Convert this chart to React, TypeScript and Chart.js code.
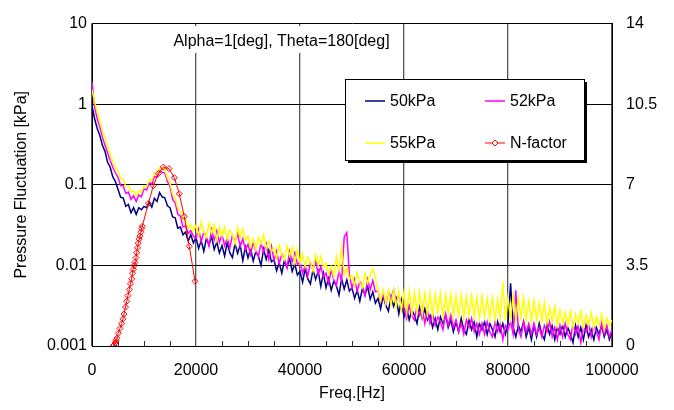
import React, { useEffect, useRef } from "react";
import { Chart, registerables } from "chart.js";

Chart.register(...registerables);

// ---- data ----
const FREQ_STEP_HZ = 500; // spectra sampled every 500 Hz from 0 to 100000 Hz

const P50_KPA = [
  0.95, 0.66, 0.50, 0.41, 0.31, 0.26, 0.19, 0.165, 0.125, 0.11,
  0.088, 0.070, 0.069, 0.054, 0.057, 0.045, 0.052, 0.043, 0.052, 0.049,
  0.054, 0.052, 0.061, 0.053, 0.068, 0.062, 0.080, 0.071, 0.069, 0.055,
  0.052, 0.040, 0.039, 0.029, 0.030, 0.024, 0.026, 0.020, 0.024, 0.019,
  0.0222, 0.0162, 0.0203, 0.0150, 0.0216, 0.0179, 0.0229, 0.0158, 0.0195, 0.0143,
  0.0176, 0.0131, 0.0192, 0.0144, 0.0125, 0.0186, 0.0141, 0.0179, 0.0115, 0.0168,
  0.0124, 0.0162, 0.0113, 0.0149, 0.0130, 0.0100, 0.0159, 0.0119, 0.0154, 0.0111,
  0.0118, 0.0086, 0.0108, 0.0080, 0.0115, 0.0095, 0.0122, 0.0084, 0.0104, 0.0076,
  0.0084, 0.0062, 0.0091, 0.0068, 0.0059, 0.0088, 0.0067, 0.0085, 0.0055, 0.0080,
  0.0053, 0.0070, 0.0049, 0.0064, 0.0056, 0.0043, 0.0068, 0.0051, 0.0066, 0.0048,
  0.0053, 0.0039, 0.0049, 0.0036, 0.0052, 0.0043, 0.0055, 0.0038, 0.0047, 0.0034,
  0.0039, 0.0029, 0.0042, 0.0032, 0.0027, 0.0041, 0.0031, 0.0039, 0.0025, 0.0037,
  0.0023, 0.0030, 0.0021, 0.0028, 0.0024, 0.0019, 0.0030, 0.0022, 0.0029, 0.0021,
  0.0024, 0.0017, 0.0022, 0.0016, 0.0023, 0.0019, 0.0024, 0.0017, 0.0021, 0.0015,
  0.0020, 0.0015, 0.0022, 0.0016, 0.0014, 0.0021, 0.0016, 0.0020, 0.0013, 0.0019,
  0.0016, 0.0020, 0.0014, 0.0019, 0.0016, 0.0013, 0.0020, 0.0015, 0.0019, 0.0014,
  0.0019, 0.0060, 0.0017, 0.0013, 0.0018, 0.0015, 0.0020, 0.0013, 0.0017, 0.0012,
  0.0018, 0.0013, 0.0019, 0.0014, 0.0012, 0.0019, 0.0014, 0.0018, 0.0012, 0.0017,
  0.0014, 0.0018, 0.0013, 0.0017, 0.0014, 0.0011, 0.0018, 0.0013, 0.0017, 0.0012,
  0.0018, 0.0013, 0.0016, 0.0012, 0.0017, 0.0014, 0.0018, 0.0013, 0.0016, 0.0012,
  0.0015,
];

const P52_KPA = [
  1.9, 0.92, 0.66, 0.52, 0.39, 0.31, 0.25, 0.20, 0.165, 0.14,
  0.124, 0.098, 0.097, 0.078, 0.081, 0.066, 0.073, 0.062, 0.075, 0.071,
  0.089, 0.086, 0.106, 0.102, 0.127, 0.124, 0.150, 0.143, 0.140, 0.110,
  0.096, 0.066, 0.060, 0.043, 0.041, 0.030, 0.031, 0.025, 0.027, 0.023,
  0.0216, 0.0282, 0.0197, 0.0259, 0.0226, 0.0174, 0.0277, 0.0207, 0.0268, 0.0193,
  0.0242, 0.0176, 0.0221, 0.0164, 0.0236, 0.0195, 0.0250, 0.0172, 0.0213, 0.0156,
  0.0182, 0.0135, 0.0198, 0.0149, 0.0129, 0.0191, 0.0145, 0.0185, 0.0119, 0.0173,
  0.0115, 0.0150, 0.0105, 0.0138, 0.0120, 0.0093, 0.0148, 0.0110, 0.0143, 0.0103,
  0.0110, 0.0080, 0.0100, 0.0074, 0.0107, 0.0088, 0.0113, 0.0078, 0.0097, 0.0071,
  0.0080, 0.0060, 0.0088, 0.0066, 0.0057, 0.0085, 0.0064, 0.0225, 0.0255, 0.0077,
  0.0052, 0.0068, 0.0048, 0.0063, 0.0055, 0.0042, 0.0067, 0.0050, 0.0065, 0.0047,
  0.0048, 0.0035, 0.0044, 0.0033, 0.0047, 0.0039, 0.0050, 0.0034, 0.0043, 0.0031,
  0.0030, 0.0022, 0.0032, 0.0024, 0.0021, 0.0031, 0.0024, 0.0030, 0.0019, 0.0028,
  0.0019, 0.0025, 0.0018, 0.0023, 0.0020, 0.0016, 0.0025, 0.0018, 0.0024, 0.0017,
  0.0021, 0.0015, 0.0019, 0.0014, 0.0021, 0.0017, 0.0022, 0.0015, 0.0019, 0.0014,
  0.0019, 0.0014, 0.0020, 0.0015, 0.0013, 0.0020, 0.0015, 0.0019, 0.0012, 0.0018,
  0.0016, 0.0020, 0.0014, 0.0049, 0.0016, 0.0013, 0.0020, 0.0015, 0.0019, 0.0014,
  0.0019, 0.0014, 0.0017, 0.0013, 0.0018, 0.0015, 0.0020, 0.0013, 0.0017, 0.0012,
  0.0018, 0.0013, 0.0019, 0.0014, 0.0012, 0.0019, 0.0014, 0.0018, 0.0011, 0.0017,
  0.0015, 0.0019, 0.0013, 0.0018, 0.0015, 0.0012, 0.0019, 0.0014, 0.0018, 0.0013,
  0.0016,
];

const P55_KPA = [
  1.5, 1.08, 0.80, 0.62, 0.47, 0.38, 0.30, 0.245, 0.195, 0.165,
  0.148, 0.120, 0.117, 0.096, 0.097, 0.081, 0.085, 0.073, 0.084, 0.081,
  0.097, 0.095, 0.116, 0.113, 0.139, 0.137, 0.162, 0.158, 0.154, 0.120,
  0.106, 0.076, 0.069, 0.051, 0.048, 0.037, 0.037, 0.029, 0.032, 0.027,
  0.0314, 0.0234, 0.0342, 0.0257, 0.0222, 0.0331, 0.0251, 0.0319, 0.0205, 0.0299,
  0.0230, 0.0300, 0.0210, 0.0275, 0.0240, 0.0185, 0.0295, 0.0220, 0.0285, 0.0205,
  0.0230, 0.0168, 0.0211, 0.0156, 0.0224, 0.0185, 0.0238, 0.0164, 0.0203, 0.0148,
  0.0165, 0.0123, 0.0180, 0.0135, 0.0117, 0.0174, 0.0132, 0.0168, 0.0108, 0.0158,
  0.0106, 0.0138, 0.0097, 0.0127, 0.0110, 0.0085, 0.0136, 0.0101, 0.0131, 0.0094,
  0.0106, 0.0077, 0.0097, 0.0072, 0.0128, 0.0086, 0.0168, 0.0076, 0.0094, 0.0068,
  0.0075, 0.0056, 0.0082, 0.0061, 0.0053, 0.0079, 0.0060, 0.0076, 0.0090, 0.0071,
  0.0048, 0.0036, 0.0050, 0.0034, 0.0049, 0.0032, 0.0050, 0.0030, 0.0048, 0.0028,
  0.0047, 0.0026, 0.0048, 0.0025, 0.0046, 0.0027, 0.0047, 0.0024, 0.0045, 0.0025,
  0.0046, 0.0024, 0.0044, 0.0026, 0.0045, 0.0023, 0.0043, 0.0025, 0.0044, 0.0023,
  0.0042, 0.0024, 0.0043, 0.0022, 0.0041, 0.0024, 0.0042, 0.0023, 0.0040, 0.0022,
  0.0041, 0.0023, 0.0039, 0.0022, 0.0040, 0.0021, 0.0038, 0.0022, 0.0063, 0.0021,
  0.0040, 0.0022, 0.0042, 0.0021, 0.0039, 0.0022, 0.0040, 0.0021, 0.0036, 0.0020,
  0.0037, 0.0021, 0.0034, 0.0020, 0.0035, 0.0019, 0.0030, 0.0020, 0.0031, 0.0018,
  0.0028, 0.0019, 0.0026, 0.0018, 0.0027, 0.0017, 0.0025, 0.0019, 0.0027, 0.0017,
  0.0024, 0.0018, 0.0026, 0.0017, 0.0023, 0.0018, 0.0025, 0.0016, 0.0022, 0.0018,
  0.0021,
];

const NF_FREQ = [
  4040, 4230, 4420, 4620, 4810, 5060, 5380, 5710, 5960, 6150,
  6440, 6670, 6920, 7170, 7400, 7630, 7790, 7940, 8120, 8270,
  8460, 8600, 8750, 8900, 9080, 9230, 9420, 9560, 9670, 10830,
  11790, 12750, 13710, 14810, 15830, 16790, 17750, 18710, 19810,
];
const NF_VALUE = [
  0.0, 0.04, 0.13, 0.25, 0.34, 0.55, 0.76, 0.97, 1.18, 1.39,
  1.69, 1.94, 2.19, 2.45, 2.70, 2.91, 3.16, 3.33, 3.50, 3.63,
  3.84, 4.05, 4.26, 4.47, 4.64, 4.77, 4.94, 5.10, 5.20, 6.19,
  6.96, 7.49, 7.77, 7.70, 7.31, 6.61, 5.62, 4.33, 2.81,
];

const SERIES_NAMES = ["50kPa", "52kPa", "55kPa", "N-factor"];
const SERIES_COLORS = ["#000080", "#FF00FF", "#FFFF00", "#FF0000"];

const X_TICKS = [0, 20000, 40000, 60000, 80000, 100000];
const X_MINOR_TICKS = [5000, 10000, 15000, 25000, 30000, 35000, 45000, 50000, 55000, 65000, 70000, 75000, 85000, 90000, 95000];
const Y_TICKS = [0.001, 0.01, 0.1, 1, 10];
const Y_TICK_LABELS = ["0.001", "0.01", "0.1", "1", "10"];
const Y2_TICKS = [0, 3.5, 7, 10.5, 14];
const Y2_TICK_LABELS = ["0", "3.5", "7", "10.5", "14"];

const X_TITLE = "Freq.[Hz]";
const Y_TITLE = "Pressure Fluctuation [kPa]";
const ANNOTATION = "Alpha=1[deg], Theta=180[deg]";

const FONT = "'Liberation Sans', Arial, sans-serif";

const overlayPlugin = {
  id: "overlay",
  afterDraw(chart: any) {
    const ctx = chart.ctx as CanvasRenderingContext2D;
    const xs = chart.scales.x;
    const area = chart.chartArea;
    ctx.save();

    // minor inward ticks on x axis
    ctx.strokeStyle = "#333";
    ctx.lineWidth = 1;
    for (const v of X_MINOR_TICKS) {
      const px = Math.round(xs.getPixelForValue(v)) + 0.5;
      ctx.beginPath();
      ctx.moveTo(px, area.bottom);
      ctx.lineTo(px, area.bottom - 5);
      ctx.stroke();
    }

    // annotation text with white background
    ctx.fillStyle = "#fff";
    ctx.fillRect(166, 26, 231, 27);
    ctx.fillStyle = "#000";
    ctx.font = `16px ${FONT}`;
    ctx.textAlign = "center";
    ctx.textBaseline = "middle";
    ctx.fillText(ANNOTATION, 281.5, 42);

    // legend box with shadow
    const bx = 345, by = 79, bw = 239, bh = 81;
    ctx.fillStyle = "#000";
    ctx.fillRect(bx + 3, by + 3, bw, bh);
    ctx.fillStyle = "#fff";
    ctx.fillRect(bx, by, bw, bh);
    ctx.strokeStyle = "#000";
    ctx.lineWidth = 1;
    ctx.strokeRect(bx + 0.5, by + 0.5, bw, bh);

    ctx.textAlign = "left";
    ctx.textBaseline = "middle";
    ctx.font = `16px ${FONT}`;
    SERIES_NAMES.forEach((name, i) => {
      const col = i % 2;
      const row = Math.floor(i / 2);
      const x0 = bx + 20 + col * 120;
      const y = by + 22 + row * 42;
      ctx.strokeStyle = SERIES_COLORS[i];
      ctx.lineWidth = i === 3 ? 1 : 1.5;
      ctx.beginPath();
      ctx.moveTo(x0, y);
      ctx.lineTo(x0 + 20, y);
      ctx.stroke();
      if (i === 3) {
        const cx = x0 + 10;
        ctx.beginPath();
        ctx.moveTo(cx, y - 3);
        ctx.lineTo(cx + 3, y);
        ctx.lineTo(cx, y + 3);
        ctx.lineTo(cx - 3, y);
        ctx.closePath();
        ctx.fillStyle = "#fff";
        ctx.fill();
        ctx.stroke();
      }
      ctx.fillStyle = "#000";
      ctx.fillText(name, x0 + 25, y + 1);
    });

    ctx.restore();
  },
};

export default function App() {
  const ref = useRef<HTMLCanvasElement | null>(null);

  useEffect(() => {
    if (!ref.current) return;
    Chart.defaults.color = "#000";
    Chart.defaults.font.family = FONT;

    const spectra = [P50_KPA, P52_KPA, P55_KPA];
    const datasets: any[] = spectra.map((arr, k) => ({
      label: SERIES_NAMES[k],
      data: arr.map((y, i) => ({ x: i * FREQ_STEP_HZ, y })),
      borderColor: SERIES_COLORS[k],
      borderWidth: 1.5,
      pointRadius: 0,
      tension: 0,
      yAxisID: "y",
      order: 3 - k,
    }));
    datasets.push({
      label: SERIES_NAMES[3],
      data: NF_FREQ.map((x, i) => ({ x, y: NF_VALUE[i] })),
      borderColor: SERIES_COLORS[3],
      borderWidth: 1,
      pointStyle: "rectRot",
      pointRadius: 3,
      pointBorderColor: SERIES_COLORS[3],
      pointBackgroundColor: "rgba(255,255,255,0)",
      pointBorderWidth: 1,
      tension: 0,
      yAxisID: "y2",
      order: 0,
    });

    const chart = new Chart(ref.current, {
      type: "line",
      data: { datasets },
      options: {
        animation: false,
        responsive: false,
        events: [],
        layout: { padding: { top: 14, left: 0, right: 0, bottom: 0 } },
        plugins: { legend: { display: false }, tooltip: { enabled: false } },
        scales: {
          x: {
            type: "linear",
            min: 0,
            max: 100000,
            afterBuildTicks: (s: any) => {
              s.ticks = X_TICKS.map((v) => ({ value: v }));
            },
            afterFit: (s: any) => {
              s.height = 64;
            },
            ticks: {
              callback: (v: any) => String(v),
              font: { size: 16 },
              padding: 15,
              maxRotation: 0,
              autoSkip: false,
              color: "#000",
            },
            grid: { color: "#555", lineWidth: 1.3, drawTicks: false },
            border: { display: true, color: "#000", width: 1 },
            title: {
              display: true,
              text: X_TITLE,
              font: { size: 16 },
              padding: { top: 0, bottom: 7 },
              color: "#000",
            },
          },
          y: {
            type: "logarithmic",
            position: "left",
            min: 0.001,
            max: 10,
            afterBuildTicks: (s: any) => {
              s.ticks = Y_TICKS.map((v) => ({ value: v }));
            },
            afterFit: (s: any) => {
              s.width = 92;
            },
            ticks: {
              callback: (v: any) => {
                const i = Y_TICKS.findIndex((t) => Math.abs(t - v) / t < 1e-6);
                return i >= 0 ? Y_TICK_LABELS[i] : "";
              },
              font: { size: 16 },
              padding: 5,
              autoSkip: false,
              color: "#000",
            },
            grid: { color: "#000", lineWidth: 1, drawTicks: false },
            border: { display: true, color: "#000", width: 1 },
            title: {
              display: true,
              text: Y_TITLE,
              font: { size: 16 },
              padding: { top: 12, bottom: 0 },
              color: "#000",
            },
          },
          y2: {
            type: "linear",
            position: "right",
            min: 0,
            max: 14,
            afterBuildTicks: (s: any) => {
              s.ticks = Y2_TICKS.map((v) => ({ value: v }));
            },
            afterFit: (s: any) => {
              s.width = 62;
            },
            ticks: {
              callback: (v: any) => {
                const i = Y2_TICKS.findIndex((t) => Math.abs(t - v) < 1e-9);
                return i >= 0 ? Y2_TICK_LABELS[i] : "";
              },
              font: { size: 16 },
              padding: 14,
              autoSkip: false,
              color: "#000",
            },
            grid: { display: false, drawOnChartArea: false, drawTicks: false },
            border: { display: true, color: "#000", width: 1 },
          },
        },
      } as any,
      plugins: [overlayPlugin],
    });

    return () => chart.destroy();
  }, []);

  return (
    <div style={{ position: "fixed", left: 0, top: 0, width: 674, height: 410, background: "#fff" }}>
      <canvas ref={ref} width={674} height={410} style={{ display: "block", width: 674, height: 410 }} />
    </div>
  );
}
